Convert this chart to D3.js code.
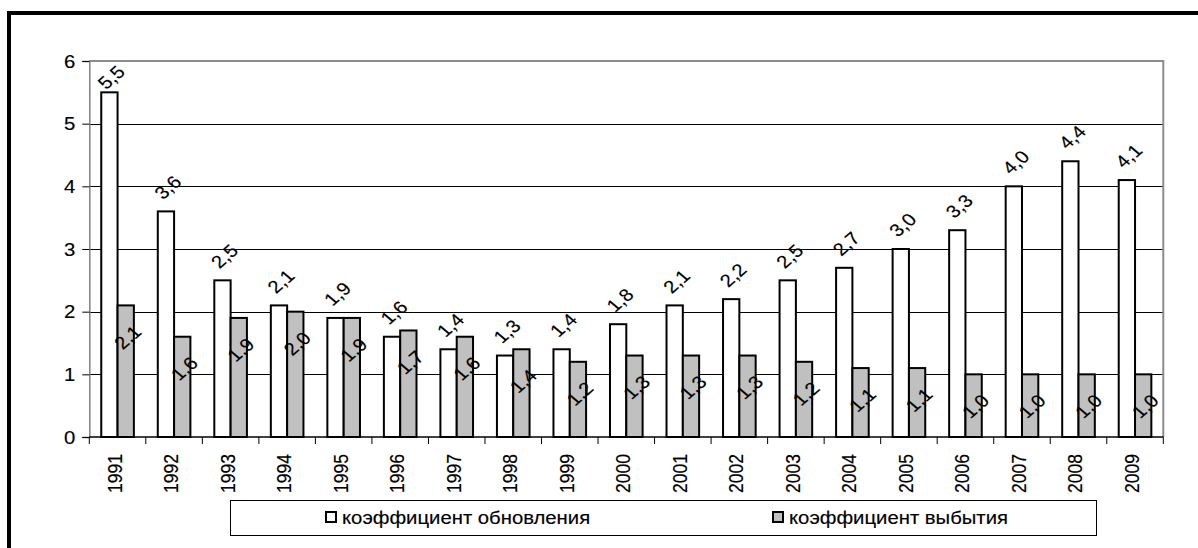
<!DOCTYPE html>
<html><head><meta charset="utf-8">
<script src="https://cdn.jsdelivr.net/npm/d3@7"></script>
<style>
html,body{margin:0;padding:0;background:#fff;}
svg{display:block;}
text{font-family:"Liberation Sans",Arial,sans-serif;fill:#000;stroke:#000;stroke-width:0.15px;}
</style></head>
<body>
<svg id="chart" width="1198" height="548"></svg>
<script>
const years = ["1991","1992","1993","1994","1995","1996","1997","1998","1999","2000","2001","2002","2003","2004","2005","2006","2007","2008","2009"];
const renewal = [5.5,3.6,2.5,2.1,1.9,1.6,1.4,1.3,1.4,1.8,2.1,2.2,2.5,2.7,3.0,3.3,4.0,4.4,4.1];
const retirement = [2.1,1.6,1.9,2.0,1.9,1.7,1.6,1.4,1.2,1.3,1.3,1.3,1.2,1.1,1.1,1.0,1.0,1.0,1.0];
const seriesNames = ["коэффициент обновления","коэффициент выбытия"];
const seriesColors = ["#ffffff","#c0c0c0"];
const yTicks = [0,1,2,3,4,5,6];

const svg = d3.select("#chart");
const SX = 1.16; // horizontal text stretch
const FS = 17.5;
const fmt = v => v.toFixed(1).replace(".", ",");

// outer chart border (top and left visible)
svg.append("line").attr("x1",9).attr("x2",1198).attr("y1",13).attr("y2",13).attr("stroke","#000").attr("stroke-width",4);
svg.append("line").attr("x1",9).attr("x2",9).attr("y1",11).attr("y2",548).attr("stroke","#000").attr("stroke-width",4);

const L = 89.3, R = 1163.3, T = 61, B = 437;
const x0 = d3.scaleBand().domain(years).range([L, R]).padding(0);
const x1 = d3.scaleBand().domain([0,1]).range([0, x0.bandwidth()]).paddingInner(0).paddingOuter(0.733);
const y = d3.scaleLinear().domain([0,6]).range([B, T]);

// gridlines
svg.append("g").selectAll("line").data(yTicks.filter(t => t>0 && t<6)).join("line")
  .attr("x1", L).attr("x2", R).attr("y1", d => Math.round(y(d))+0.5).attr("y2", d => Math.round(y(d))+0.5)
  .attr("stroke","#000").attr("stroke-width",1);

// plot border top & right (gray)
svg.append("path").attr("d", `M${L},${y(6)} H${R} V${B}`).attr("fill","none").attr("stroke","#8c8c8c").attr("stroke-width",2);

// y axis
const yAxis = svg.append("g").attr("transform", `translate(${L},0)`)
  .call(d3.axisLeft(y).tickValues(yTicks).tickSize(7).tickFormat(d => d));
yAxis.select(".domain").attr("stroke","#808080").attr("stroke-width",1.5);
yAxis.selectAll(".tick line").attr("stroke","#000");
yAxis.selectAll(".tick text").attr("font-size",FS).attr("font-family","Liberation Sans, Arial, sans-serif")
  .attr("x",0).attr("dy",null).attr("dominant-baseline","central").attr("text-anchor","end")
  .attr("transform", `translate(-14,0) scale(${SX},1)`);

// bars
const groups = svg.append("g").selectAll("g").data(years).join("g")
  .attr("transform", d => `translate(${x0(d)},0)`);
const vals = [renewal, retirement];
groups.selectAll("rect").data((d,i) => [0,1].map(s => ({s, v: vals[s][i]}))).join("rect")
  .attr("x", d => x1(d.s)).attr("width", x1.bandwidth())
  .attr("y", d => y(d.v)).attr("height", d => y(0) - y(d.v))
  .attr("fill", d => seriesColors[d.s]).attr("stroke","#000").attr("stroke-width",2);

// x axis
svg.append("line").attr("x1",L).attr("x2",R).attr("y1",B).attr("y2",B).attr("stroke","#000").attr("stroke-width",1.5);
const bounds = years.map(d => x0(d)).concat([R]);
svg.append("g").selectAll("line").data(bounds).join("line")
  .attr("x1", d => d).attr("x2", d => d).attr("y1", B).attr("y2", B+7).attr("stroke","#000").attr("stroke-width",1);

svg.append("g").selectAll("text").data(years).join("text")
  .attr("transform", d => `translate(${x0(d)+x0.bandwidth()/2-3},${B+17}) scale(${SX},1) rotate(-90)`)
  .attr("text-anchor","end").attr("dominant-baseline","central").attr("font-size",FS).text(d => d);

// data labels
const lab = svg.append("g");
years.forEach((yr,i) => {
  const cx0 = x0(yr) + x1(0) + x1.bandwidth()/2 + 2;
  const cy0 = Math.max(y(renewal[i]) - 24, 77.5);
  lab.append("text").attr("transform", `translate(${cx0},${cy0}) scale(${SX},1) rotate(-45)`)
    .attr("text-anchor","middle").attr("dominant-baseline","central").attr("font-size",FS).text(fmt(renewal[i]));
  const cx1 = x0(yr) + x1(1) + x1.bandwidth()/2 + 2;
  const cy1 = y(retirement[i]) + 32;
  lab.append("text").attr("transform", `translate(${cx1},${cy1}) scale(${SX},1) rotate(-45)`)
    .attr("text-anchor","middle").attr("dominant-baseline","central").attr("font-size",FS).text(fmt(retirement[i]));
});

// legend
const lg = svg.append("g");
lg.append("rect").attr("x",230.5).attr("y",500.5).attr("width",866).attr("height",35).attr("fill","#fff").attr("stroke","#000").attr("stroke-width",1);
const legX = [325, 772];
seriesNames.forEach((n,i) => {
  lg.append("rect").attr("x", legX[i]+1).attr("y", 512).attr("width", 10).attr("height", 10)
    .attr("fill", seriesColors[i]).attr("stroke","#000").attr("stroke-width",2);
  lg.append("text").attr("transform", `translate(${legX[i]+17},${517.5}) scale(${SX},1)`)
    .attr("dominant-baseline","central").attr("font-size",FS).text(n);
});
</script>
</body></html>
